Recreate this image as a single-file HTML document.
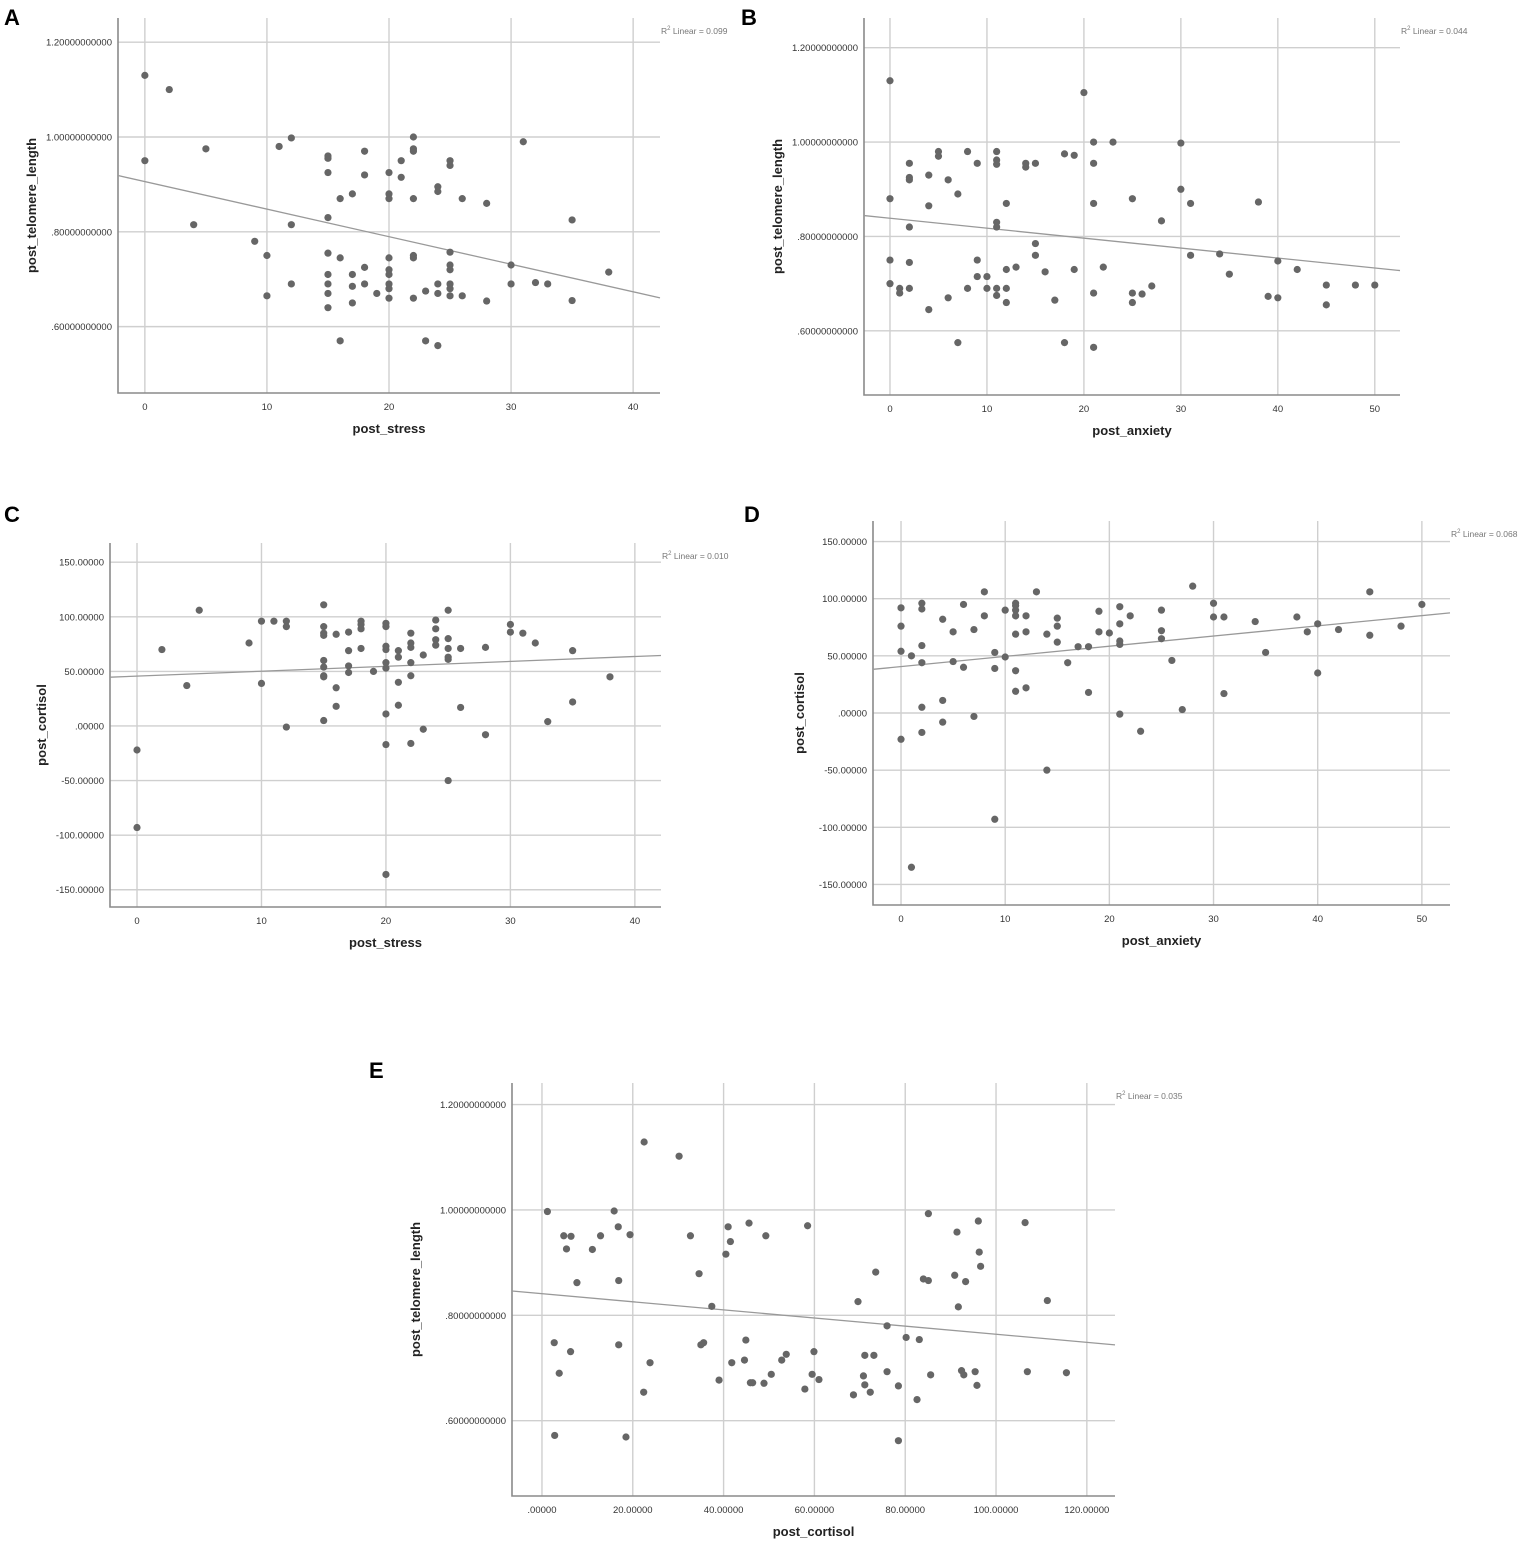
<!DOCTYPE html>
<html><head><meta charset="utf-8"><style>
html,body{margin:0;padding:0;background:#fff;}
svg{display:block;font-family:"Liberation Sans",Arial,sans-serif;}
</style></head><body>
<svg id="fig" width="1535" height="1550" viewBox="0 0 1535 1550">
<text x="4" y="25" font-size="22" font-weight="bold">A</text>
<text x="741" y="25" font-size="22" font-weight="bold">B</text>
<text x="4" y="522" font-size="22" font-weight="bold">C</text>
<text x="744" y="522" font-size="22" font-weight="bold">D</text>
<text x="369" y="1078" font-size="22" font-weight="bold">E</text>
</svg>
<script>
// Panel A: post_stress vs post_telomere_length
const aStress=[0,0,2,5,4,9,10,10,11,12,12,12,15,15,15,15,15,15,15,15,15,16,16,16,17,17,17,17,18,18,18,18,19,20,20,20,20,20,20,20,20,20,21,21,22,22,22,22,22,22,22,23,23,24,24,24,24,24,25,25,25,25,25,25,25,25,26,26,28,28,30,30,31,32,33,35,35,38];
const aTelomere=[1.13,0.95,1.10,0.975,0.815,0.78,0.75,0.665,0.98,0.998,0.815,0.69,0.96,0.955,0.925,0.83,0.755,0.71,0.69,0.67,0.64,0.87,0.745,0.57,0.88,0.71,0.685,0.65,0.97,0.92,0.725,0.69,0.67,0.925,0.88,0.87,0.745,0.72,0.71,0.69,0.68,0.66,0.95,0.915,1.0,0.975,0.97,0.87,0.75,0.745,0.66,0.675,0.57,0.895,0.885,0.69,0.67,0.56,0.95,0.94,0.757,0.73,0.72,0.69,0.68,0.665,0.87,0.665,0.86,0.654,0.73,0.69,0.99,0.693,0.69,0.825,0.655,0.715];
// Panel B: post_anxiety vs post_telomere_length
const bAnxiety=[0,0,0,0,1,1,2,2,2,2,2,2,4,4,4,5,5,6,6,7,7,8,8,9,9,9,10,10,11,11,11,11,11,11,11,12,12,12,12,13,14,14,15,15,15,16,17,18,18,19,19,20,21,21,21,21,21,22,23,25,25,25,26,27,28,30,30,31,31,34,35,38,39,40,40,42,45,45,48,50];
const bTelomere=[1.13,0.88,0.75,0.70,0.69,0.68,0.955,0.925,0.92,0.82,0.745,0.69,0.93,0.865,0.645,0.98,0.97,0.92,0.67,0.89,0.575,0.98,0.69,0.955,0.75,0.715,0.715,0.69,0.98,0.962,0.953,0.83,0.82,0.69,0.675,0.87,0.73,0.69,0.66,0.735,0.955,0.947,0.955,0.785,0.76,0.725,0.665,0.975,0.575,0.972,0.73,1.105,1.0,0.955,0.87,0.68,0.565,0.735,1.0,0.88,0.68,0.66,0.678,0.695,0.833,0.998,0.9,0.87,0.76,0.763,0.72,0.873,0.673,0.748,0.67,0.73,0.697,0.655,0.697,0.697];
// Panel C: post_stress vs post_cortisol
const cStress=[0,0,2,4,5,9,10,10,11,12,12,12,15,15,15,15,15,15,15,15,15,16,16,16,17,17,17,17,18,18,18,18,19,20,20,20,20,20,20,20,20,20,21,21,21,21,22,22,22,22,22,22,23,23,24,24,24,24,25,25,25,25,25,25,26,26,28,28,30,30,31,32,33,35,35,38];
const cCortisol=[-22,-93,70,37,106,76,96,39,96,96,91,-1,111,91,85,83,60,54,46,45,5,84,35,18,86,69,55,49,96,93,89,71,50,94,91,73,70,58,53,11,-17,-136,69,63,40,19,85,76,72,58,46,-16,65,-3,97,89,79,74,106,80,71,63,61,-50,71,17,72,-8,93,86,85,76,4,69,22,45];
// Panel D: post_anxiety vs post_cortisol
const dAnxiety=[0,0,0,0,1,1,2,2,2,2,2,2,4,4,4,5,5,6,6,7,7,8,8,9,9,9,10,10,11,11,11,11,11,11,11,12,12,12,13,14,14,15,15,15,16,17,18,18,19,19,20,21,21,21,21,21,22,23,25,25,25,26,27,28,30,30,31,31,34,35,38,39,40,40,42,45,45,48,50];
const dCortisol=[92,76,54,-23,50,-135,96,91,59,44,5,-17,82,11,-8,71,45,95,40,73,-3,106,85,53,39,-93,90,49,96,94,90,85,69,37,19,85,71,22,106,69,-50,83,76,62,44,58,58,18,89,71,70,93,78,63,60,-1,85,-16,90,72,65,46,3,111,96,84,84,17,80,53,84,71,78,35,73,106,68,76,95];
// Panel E: post_cortisol vs post_telomere_length
const eCortisol=[1.2,2.7,2.8,3.8,4.8,5.4,6.4,6.3,7.7,11.1,12.9,15.9,16.8,16.9,16.9,18.5,19.4,22.5,22.4,23.8,30.2,32.7,34.6,35,35.6,37.4,39,40.5,41,41.5,41.8,44.6,44.9,45.6,45.9,46.4,48.9,49.3,50.5,52.8,53.8,57.9,58.5,59.5,59.9,61,68.6,69.6,70.8,71.1,73.1,71.1,72.3,73.5,76,76,78.5,78.5,80.2,82.6,83.1,84,85.1,85.1,85.6,90.9,91.4,91.7,92.4,92.9,93.3,95.4,95.8,96.1,96.3,96.6,106.4,106.9,111.3,115.5];
const eTelomere=[0.997,0.748,0.572,0.69,0.951,0.926,0.95,0.731,0.862,0.925,0.951,0.998,0.968,0.866,0.744,0.569,0.953,1.129,0.654,0.71,1.102,0.951,0.879,0.744,0.748,0.817,0.677,0.916,0.968,0.94,0.71,0.715,0.753,0.975,0.672,0.672,0.671,0.951,0.688,0.715,0.726,0.66,0.97,0.688,0.731,0.678,0.649,0.826,0.685,0.724,0.724,0.668,0.654,0.882,0.78,0.693,0.666,0.562,0.758,0.64,0.754,0.869,0.866,0.993,0.687,0.876,0.958,0.816,0.695,0.687,0.864,0.693,0.667,0.979,0.92,0.893,0.976,0.693,0.828,0.691];

const telTicks=[1.2,1.0,0.8,0.6];
const telTickLabels=["1.20000000000","1.00000000000",".80000000000",".60000000000"];
const cortTicks=[150,100,50,0,-50,-100,-150];
const cortTickLabels=["150.00000","100.00000","50.00000",".00000","-50.00000","-100.00000","-150.00000"];
const stressTicks=[0,10,20,30,40];
const anxTicks=[0,10,20,30,40,50];
const eXTicks=[0,20,40,60,80,100,120];
const eXTickLabels=[".00000","20.00000","40.00000","60.00000","80.00000","100.00000","120.00000"];
const r2Labels=["0.099","0.044","0.010","0.068","0.035"];

const NS="http://www.w3.org/2000/svg";
const svg=document.getElementById('fig');
function mk(tag,attrs,parent){const e=document.createElementNS(NS,tag);for(const k in attrs)e.setAttribute(k,attrs[k]);(parent||svg).appendChild(e);return e;}

function panel(id,g,xs,ys,xT,xTL,yT,yTL,xTitle,yTitle,r2){
  const grp=mk('g',{});
  
  
  const sx=v=>g.L+(v-g.x0)/(g.x1-g.x0)*(g.R-g.L);
  const sy=v=>g.B-(v-g.y0)/(g.y1-g.y0)*(g.B-g.T);
  yT.forEach((t,i)=>{
    const l=mk('line',{x1:g.L,x2:g.R,y1:sy(t),y2:sy(t),stroke:'#cfcfcf','stroke-width':1.4},grp);
    
    
    const tx=mk('text',{x:g.L-6,y:sy(t)+3.5,'font-size':9.5,'text-anchor':'end',fill:'#333'},grp);
    tx.textContent=yTL[i];
    
    
  });
  xT.forEach((t,i)=>{
    const l=mk('line',{x1:sx(t),x2:sx(t),y1:g.T,y2:g.B,stroke:'#cfcfcf','stroke-width':1.4},grp);
    
    
    const tx=mk('text',{x:sx(t),y:g.B+17,'font-size':9.5,'text-anchor':'middle',fill:'#333'},grp);
    tx.textContent=xTL[i];
    
    
  });
  const ax=mk('path',{d:`M${g.L},${g.T}V${g.B}H${g.R}`,stroke:'#8a8a8a','stroke-width':1.6,fill:'none'},grp);
  
  
  // least-squares fit from data
  const n=xs.length;let mx=0,my=0;for(let i=0;i<n;i++){mx+=xs[i];my+=ys[i];}mx/=n;my/=n;
  let sxy=0,sxx=0;for(let i=0;i<n;i++){sxy+=(xs[i]-mx)*(ys[i]-my);sxx+=(xs[i]-mx)**2;}
  const b=sxy/sxx,a=my-b*mx;
  const fl=mk('line',{x1:g.L,y1:sy(a+b*g.x0),x2:g.R,y2:sy(a+b*g.x1),stroke:'#999','stroke-width':1.3},grp);
  
  
  for(let i=0;i<n;i++){
    const c=mk('circle',{cx:sx(xs[i]),cy:sy(ys[i]),r:3.6,fill:'#666'},grp);
    
    
  }
  const rt=mk('text',{x:g.R+1,y:g.T+16,'font-size':8.5,fill:'#777'},grp);
  rt.innerHTML='R<tspan font-size="6" dy="-4">2</tspan><tspan dy="4"> Linear = '+r2+'</tspan>';
  
  
  const xt=mk('text',{x:(g.L+g.R)/2+g.xto,y:g.B+40,'font-size':13,'font-weight':'bold','text-anchor':'middle',fill:'#222'},grp);
  xt.textContent=xTitle;
  
  
  const yc=(g.T+g.B)/2;
  const yt=mk('text',{x:g.yx,y:yc,'font-size':13,'font-weight':'bold','text-anchor':'middle',fill:'#222',transform:`rotate(-90 ${g.yx} ${yc})`},grp);
  yt.textContent=yTitle;
  
  
}
panel('a',{L:118,R:660,T:18,B:393,x0:-2.2,x1:42.2,y0:0.46,y1:1.251,yx:36,xto:0},aStress,aTelomere,stressTicks,stressTicks.map(String),telTicks,telTickLabels,'post_stress','post_telomere_length',r2Labels[0]);
panel('b',{L:864,R:1400,T:18,B:395,x0:-2.68,x1:52.6,y0:0.464,y1:1.263,yx:782,xto:0},bAnxiety,bTelomere,anxTicks,anxTicks.map(String),telTicks,telTickLabels,'post_anxiety','post_telomere_length',r2Labels[1]);
panel('c',{L:110,R:661,T:543,B:907,x0:-2.17,x1:42.1,y0:-165.8,y1:167.6,yx:46,xto:0},cStress,cCortisol,stressTicks,stressTicks.map(String),cortTicks,cortTickLabels,'post_stress','post_cortisol',r2Labels[2]);
panel('d',{L:873,R:1450,T:521,B:905,x0:-2.69,x1:52.7,y0:-168,y1:168,yx:804,xto:0},dAnxiety,dCortisol,anxTicks,anxTicks.map(String),cortTicks,cortTickLabels,'post_anxiety','post_cortisol',r2Labels[3]);
panel('e',{L:512,R:1115,T:1083,B:1496,x0:-6.6,x1:126.2,y0:0.457,y1:1.241,yx:420,xto:0},eCortisol,eTelomere,eXTicks,eXTickLabels,telTicks,telTickLabels,'post_cortisol','post_telomere_length',r2Labels[4]);
</script>
</body></html>
